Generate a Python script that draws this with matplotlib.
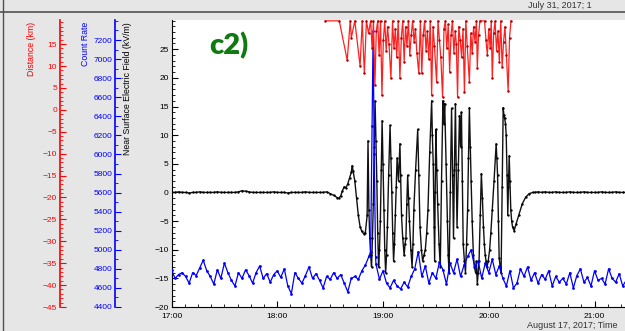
import numpy as np
import matplotlib
matplotlib.use("Agg")
import matplotlib.pyplot as plt
from matplotlib.ticker import MultipleLocator
from matplotlib.lines import Line2D

plt.rcParams['font.family'] = ['Liberation Sans', 'DejaVu Sans']

# electric field (kV/m), minutes after 17:00
field_quiet_start = [0.0, 0.0, 0.1, 0.0, 0.0, -0.1, 0.0, 0.0, 0.1, 0.0,
                     0.0, 0.0, 0.0, 0.1, 0.0, 0.0, 0.0, 0.0, 0.0, 0.1,
                     0.3, 0.2, 0.1, 0.0, 0.0, 0.0, 0.0, 0.0, 0.0, 0.1,
                     0.0, 0.0, 0.0, -0.1, 0.0, 0.0, 0.0, 0.0, 0.1, 0.0,
                     0.0, 0.0, 0.0]          # every 2 min from 17:00
field_storm = [(86, 0.0), (88, 0.1), (90, -0.2), (92, -0.5), (94, -0.9), (95, -1.0),
               (96, -0.6), (97, 0.3), (98, 1.0), (99, 0.8), (100, 1.5), (101, 2.5),
               (102, 3.5), (102.5, 4.7), (103, 3.8), (104, 2.0), (105, -1.0), (106, -4.0),
               (107, -6.0), (108, -6.8), (109, -7.2), (110, -7.0), (111, -4.0),
               (111.5, 9.0), (112.0, -3), (112.5, -8), (113.0, -11), (113.5, -13), (114.0, -8),
               (114.5, -2), (115.0, 8), (115.5, 16), (116.0, 9), (116.5, 2), (117.0, -7),
               (117.5, -13), (118.0, -10), (118.5, -5), (119.0, 4), (119.5, 12.5), (120.0, 5),
               (120.5, -3), (121.0, -10), (121.5, -14), (122.0, -11), (122.5, -6), (123.2, 3),
               (124.0, 11.7), (124.5, 6), (125.0, 0), (125.5, -7), (126.0, -12), (126.5, -9),
               (127.0, -4), (127.5, 1), (128.0, 6), (128.8, 2), (129.6, 8.5), (130.0, 3),
               (130.5, -4), (131.2, -8), (132.0, -11), (132.5, -9), (133.0, -8), (133.5, -2),
               (134.0, 3), (134.5, -1), (135.0, -5), (135.8, -10), (136.5, -13), (137.0, -9),
               (137.5, -3), (138.5, 4), (139.7, 11), (140.3, 3), (141.0, -6), (141.8, -10),
               (142.5, -12), (143.2, -11), (144.0, -10), (144.8, -7), (145.5, -3), (146.5, 7),
               (147.6, 16), (148.0, 10), (148.5, 5), (149.0, -6), (149.3, -12), (149.6, 0),
               (150.0, 11), (150.5, 4), (151.0, -2), (151.8, -9), (152.5, -13), (153.2, 2),
               (154.0, 16), (154.5, 12), (155.0, 15.5), (155.8, 5), (156.5, -5), (157.0, -11),
               (157.5, -14), (158.2, 0), (158.9, 14.7), (159.5, 3), (160.0, -8), (160.5, 4),
               (161.1, 15.5), (161.5, 5), (162.0, -6), (162.7, 4), (163.4, 13.4), (164.0, 8),
               (164.5, 14), (165.0, 2), (165.5, -9), (166.2, -12), (166.8, -14), (167.4, -9),
               (168.0, -3), (168.5, 6), (169.0, 14.8), (169.5, 8), (170.0, 2), (170.6, -5),
               (171.3, -11), (171.9, -13), (172.5, -14), (173.0, -12), (173.5, -16), (174.0, -14),
               (174.5, -12), (175.2, -4), (175.8, 3.3), (176.4, -1), (177.0, -6), (177.5, -9),
               (178.0, -11), (178.5, -12), (179.0, -13), (179.7, -12), (180.5, -10), (181.2, -7),
               (182.0, -3), (183.0, 2), (184.2, 8.5), (184.6, 6), (185.0, 3), (185.5, -5),
               (185.9, -11.4), (186.5, -13), (187.0, -14), (187.6, 1), (188.2, 14.8), (188.6, 13.5),
               (189.0, 13), (189.5, 12), (189.9, 10), (190.4, 3), (190.8, -4), (191.2, 1),
               (191.6, 6.4), (192.0, 2), (192.5, -3), (193.0, -5), (193.5, -6), (194.4, -6.7),
               (195.5, -5.5), (197, -4), (199, -2), (201, -0.8), (203, -0.2), (205, 0.0)]
field_quiet_end = [0.0, 0.1, 0.0, 0.1, 0.0, 0.0, 0.1, 0.0, 0.0, 0.0,
                   0.1, 0.0, 0.0, 0.0, 0.1, 0.0, 0.0, 0.0, 0.0, 0.1,
                   0.0, 0.0, 0.0, 0.1, 0.0, 0.0, 0.0, 0.0, 0.1, 0.0, 0.0]  # every 2 min from 20:26

# count rate
counts_before = [4790, 4700, 4740, 4760, 4720, 4650, 4760, 4730, 4810, 4890,
                 4780, 4720, 4640, 4790, 4700, 4860, 4760, 4680, 4620, 4760,
                 4700, 4790, 4730, 4650, 4760, 4830, 4700, 4750, 4660, 4740,
                 4780, 4710, 4800, 4620, 4540, 4760, 4700, 4650, 4730, 4820,
                 4700, 4750, 4680, 4600, 4720, 4690, 4760, 4700, 4740, 4650,
                 4560, 4700, 4720, 4690, 4780, 4840, 4930]   # every 2 min from 17:00
counts_burst = [(113, 4980), (113.8, 6300), (114.4, 7290), (115.0, 6000), (115.8, 4920)]
counts_after = [4850, 4690, 4780, 4650, 4600, 4680, 4620, 4590, 4660, 4610,
                4720, 4800, 4980, 4720, 4830, 4650, 4760, 4700, 4870, 4790,
                4640, 4860, 4760, 4900, 4720, 4840, 4930, 5000, 4820, 4880,
                4700, 4860, 4760, 4900, 4740, 4830, 4700, 4620, 4780, 4600,
                4650, 4800, 4720, 4820, 4680, 4760, 4650, 4740, 4690, 4780,
                4620, 4720, 4660, 4700, 4640, 4760, 4600, 4730, 4800, 4660,
                4710, 4620, 4780, 4680, 4700, 4640, 4800, 4700, 4660, 4750,
                4620, 4680, 4760, 4640, 4560, 4520]   # every 2 min from 18:56

# lightning distance (km)
lightning = [(87.3, 20.3), (95.2, 20.3), (99.7, 11.3), (101.4, 20.3), (102.0, 16.4), (104.0, 20.3),
             (107.0, 10.0), (108.2, 20.3), (109.4, 8.3), (110.6, 20.3), (111.8, 17.5), (113.0, 20.3),
             (113.8, 14.0), (114.6, 20.3), (115.4, 5.6), (116.2, 18.0), (117.0, 20.3), (117.8, 12.5),
             (118.6, 20.3), (119.4, 3.3), (120.2, 16.0), (121.0, 20.3), (121.8, 13.5), (122.6, 19.0),
             (123.4, 15.0), (124.5, 7.2), (125.4, 20.3), (126.2, 14.0), (127.0, 18.5), (127.8, 12.0),
             (128.6, 20.3), (129.6, 7.2), (130.4, 16.5), (131.2, 20.3), (132.0, 11.0), (132.8, 19.0),
             (133.6, 14.5), (134.4, 20.3), (135.2, 12.5), (136.0, 17.0), (136.8, 20.3), (137.6, 15.5),
             (138.4, 18.5), (139.2, 13.0), (140.3, 8.4), (141.2, 20.3), (142.0, 8.4), (142.8, 17.0),
             (143.6, 20.3), (144.4, 13.5), (145.2, 18.0), (146.0, 11.5), (146.8, 20.3), (147.6, 3.3),
             (148.4, 19.0), (149.2, 14.5), (150.4, 6.3), (151.2, 20.3), (152.0, 16.0), (152.8, 12.0),
             (153.8, 2.9), (154.6, 18.5), (155.4, 20.3), (156.2, 14.0), (157.0, 19.5), (157.8, 8.6),
             (158.6, 17.0), (159.4, 20.3), (160.2, 13.0), (161.0, 18.0), (161.6, 15.0), (162.3, 2.9),
             (163.0, 19.0), (163.8, 16.0), (164.6, 12.0), (165.4, 18.5), (166.2, 4.0), (167.0, 20.3),
             (167.8, 14.5), (169.0, 6.3), (169.8, 17.5), (170.6, 13.0), (171.4, 19.0), (172.2, 15.5),
             (173.0, 20.3), (173.5, 9.5), (174.2, 17.0), (175.0, 20.3), (177.6, 20.3), (178.4, 16.0),
             (179.2, 12.5), (180.0, 18.5), (180.8, 14.0), (181.4, 20.3), (182.0, 7.2), (182.8, 17.5),
             (183.6, 20.3), (184.4, 13.5), (185.2, 18.0), (186.0, 11.0), (186.8, 20.3), (187.6, 9.7),
             (188.4, 15.5), (189.2, 19.0), (190.0, 12.5), (191.0, 4.3), (191.8, 16.5), (192.6, 20.3)]

hour_labels = ["17:00", "18:00", "19:00", "20:00", "21:00"]


def hrs(minutes):
    return 17 + np.asarray(minutes, float) / 60.0


# assemble series
ft = np.concatenate([2 * np.arange(len(field_quiet_start)),
                     [p[0] for p in field_storm],
                     206 + 2 * np.arange(len(field_quiet_end))])
fv = np.concatenate([field_quiet_start, [p[1] for p in field_storm], field_quiet_end])
ct = np.concatenate([2 * np.arange(len(counts_before)),
                     [p[0] for p in counts_burst],
                     116 + 2 * np.arange(len(counts_after))])
cv = np.concatenate([counts_before, [p[1] for p in counts_burst], counts_after])
lt = np.array([p[0] for p in lightning])
lv = np.array([p[1] for p in lightning])

W, H = 625, 331
bg = '#e6e6e6'
fig = plt.figure(figsize=(W / 100, H / 100), dpi=100, facecolor=bg)

x0, x1, ytop, ybot = 171.5, 650, 20, 307
px_per_hour = 105.75
ax = fig.add_axes([x0 / W, 1 - ybot / H, (x1 - x0) / W, (ybot - ytop) / H])
ax.set_facecolor('white')
ax.set_xlim(17, 17 + (x1 - x0) / px_per_hour)
ax.set_ylim(-20, 30.1)
for s in ['top', 'right']:
    ax.spines[s].set_visible(False)

ax.plot(hrs(ft), fv, color='#111111', lw=1.0, marker='o', ms=1.7, mew=0, mfc='black')

ax.xaxis.set_minor_locator(MultipleLocator(0.125))
ax.set_xticks(range(17, 22))
ax.set_xticklabels(hour_labels)
ax.yaxis.set_minor_locator(MultipleLocator(1))
ax.set_yticks(range(-20, 30, 5))
ax.tick_params(which='both', direction='in', labelsize=6, colors='black')
ax.tick_params(axis='y', pad=2)
ax.tick_params(axis='x', pad=4)
ax.tick_params(which='major', length=4)
ax.tick_params(which='minor', length=2)

# count rate and distance axes
axb = ax.twinx()
axb.set_ylim(4400, 7410)
axb.plot(hrs(ct), cv, color='#0000ff', lw=0.9, marker='o', ms=2.0, mew=0)
axr = ax.twinx()
axr.set_ylim(-45, 20.5)
axr.plot(hrs(lt), lv, color='#ff2020', lw=0.9, marker='o', ms=1.8, mew=0, mfc='#b00000')

for a, off, col, minor in [(axb, 40.7, '#0000ff', 100), (axr, 80.3, '#ff0000', 1)]:
    for s in ['top', 'right', 'bottom']:
        a.spines[s].set_visible(False)
    a.spines['left'].set_visible(True)
    a.spines['left'].set_position(('outward', off))
    a.spines['left'].set_color(col)
    a.spines['left'].set_linewidth(1.2)
    a.yaxis.set_ticks_position('left')
    a.yaxis.set_label_position('left')
    a.yaxis.set_minor_locator(MultipleLocator(minor))
    a.tick_params(which='both', direction='in', labelsize=6, colors=col, pad=2)
    a.tick_params(which='major', length=4)
    a.tick_params(which='minor', length=2.5)

axb.set_yticks(range(4400, 7300, 200))
axr.set_yticks(range(-45, 20, 5))

fig.text(32 / W, 1 - 22 / H, 'Distance (km)', rotation=90, va='top', ha='center', fontsize=6.3, color='#ff0000')
fig.text(85 / W, 1 - 22 / H, 'Count Rate', rotation=90, va='top', ha='center', fontsize=6.3, color='#0000ff')
fig.text(127 / W, 1 - 22 / H, 'Near Surface Electric Field (kV/m)', rotation=90, va='top', ha='center',
         fontsize=6.3, color='black')

fig.text(209 / W, 1 - 46 / H, 'c2)', fontsize=21, fontweight='heavy', color='#0f7a0f', va='center',
         family='Lato')
fig.text(528 / W, 1 - 8 / H, 'July 31, 2017; 1', fontsize=6.5, color='#333333', va='baseline')
fig.text(527 / W, 1 - 328 / H, 'August 17, 2017; Time', fontsize=6.5, color='#333333', va='baseline')

fig.add_artist(Line2D([0, 1], [1 - 12 / H] * 2, transform=fig.transFigure, color='#505050', lw=1.2))
fig.add_artist(Line2D([3 / W] * 2, [0, 1], transform=fig.transFigure, color='#505050', lw=1.0))

fig.savefig('out.png', dpi=100, facecolor=bg)
